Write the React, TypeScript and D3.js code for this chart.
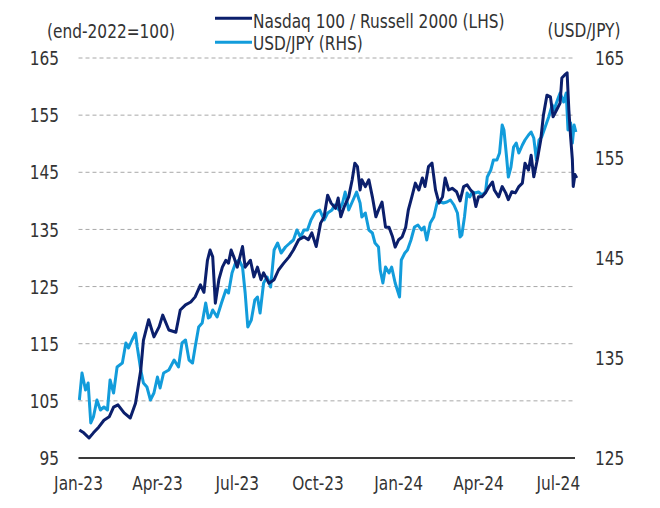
import * as d3 from "d3";
import type { ReactNode } from "react";

// Nasdaq 100 / Russell 2000, end-2022 = 100 (left axis)
const ndxDates = [
  "2023-01-02", "2023-01-07", "2023-01-13", "2023-01-18", "2023-01-24", "2023-01-30",
  "2023-02-05", "2023-02-10", "2023-02-15", "2023-02-22", "2023-03-01", "2023-03-07",
  "2023-03-13", "2023-03-16", "2023-03-22", "2023-03-28", "2023-04-03", "2023-04-07",
  "2023-04-14", "2023-04-22", "2023-04-27", "2023-05-03", "2023-05-09", "2023-05-14",
  "2023-05-20", "2023-05-24", "2023-05-28", "2023-05-31", "2023-06-03", "2023-06-06",
  "2023-06-10", "2023-06-14", "2023-06-18", "2023-06-21", "2023-06-24", "2023-06-27",
  "2023-07-01", "2023-07-07", "2023-07-10", "2023-07-16", "2023-07-20", "2023-07-24",
  "2023-07-28", "2023-07-31", "2023-08-06", "2023-08-12", "2023-08-17", "2023-08-23",
  "2023-08-29", "2023-09-03", "2023-09-09", "2023-09-15", "2023-09-20", "2023-09-24",
  "2023-09-29", "2023-10-04", "2023-10-08", "2023-10-12", "2023-10-16", "2023-10-21",
  "2023-10-24", "2023-10-27", "2023-10-31", "2023-11-05", "2023-11-09", "2023-11-12",
  "2023-11-15", "2023-11-18", "2023-11-20", "2023-11-24", "2023-11-28", "2023-12-02",
  "2023-12-06", "2023-12-09", "2023-12-13", "2023-12-17", "2023-12-21", "2023-12-25",
  "2023-12-28", "2024-01-01", "2024-01-05", "2024-01-09", "2024-01-12", "2024-01-16",
  "2024-01-20", "2024-01-24", "2024-01-28", "2024-01-31", "2024-02-04", "2024-02-08",
  "2024-02-12", "2024-02-16", "2024-02-20", "2024-02-23", "2024-02-27", "2024-03-02",
  "2024-03-07", "2024-03-11", "2024-03-15", "2024-03-19", "2024-03-23", "2024-03-26",
  "2024-03-29", "2024-04-01", "2024-04-05", "2024-04-09", "2024-04-13", "2024-04-17",
  "2024-04-19", "2024-04-24", "2024-04-28", "2024-05-02", "2024-05-05", "2024-05-09",
  "2024-05-13", "2024-05-17", "2024-05-21", "2024-05-24", "2024-05-28", "2024-05-31",
  "2024-06-03", "2024-06-07", "2024-06-11", "2024-06-14", "2024-06-18", "2024-06-22",
  "2024-06-25", "2024-06-29", "2024-07-03", "2024-07-05", "2024-07-08", "2024-07-11",
  "2024-07-13", "2024-07-15", "2024-07-17", "2024-07-18", "2024-07-20", "2024-07-22",
];
const ndxValues = [
  99.9, 99.4, 98.5, 99.4, 100.4, 101.6,
  102.2, 103.9, 104.3, 102.9, 102, 104.6,
  110.4, 115.6, 119.2, 116.2, 118, 120,
  117.4, 117, 120.9, 121.8, 122.3, 123.2,
  125.3, 124, 129.6, 131.4, 130.2, 122.1,
  126.2, 128.4, 129.6, 129.1, 131.4, 130.2,
  128.4, 132, 128.4, 129.6, 126.7, 128.4,
  126.2, 127.4, 125.6, 126.2, 127.9, 129.1,
  130.2, 131.4, 133.2, 133.7, 133.2, 134.4,
  132, 136.1, 137.2, 141, 139.6, 138.7,
  140.5, 137.2, 139, 140.7, 143.7, 146.6,
  146, 141.9, 143.7, 142.5, 143.7, 140.7,
  137.2, 138.4, 139.8, 135.4, 135.4, 133.7,
  131.9, 133.2, 133.7, 135.4, 138.4, 140.7,
  143.1, 141.9, 144, 142.5, 146, 146.6,
  141.9, 139.6, 140.7, 144, 141.9, 142.2,
  141.6, 140, 142.5, 142.8, 141.9, 141.4,
  139, 140.7, 140.7, 141.4, 142.5, 143.3,
  141.9, 140.7, 142.5, 141.4, 140.2, 141.6,
  141.4, 142.5, 143.1, 146.6, 145.4, 148,
  144.2, 147.2, 150.7, 155, 158.5, 158.2,
  154.7, 155.9, 157.1, 161.5, 162, 162.4,
  155.9, 151.2, 147.2, 142.5, 144.6, 144,
];

// USD/JPY (right axis)
const jpyDates = [
  "2023-01-02", "2023-01-05", "2023-01-09", "2023-01-12", "2023-01-15", "2023-01-18",
  "2023-01-22", "2023-01-26", "2023-01-30", "2023-02-03", "2023-02-06", "2023-02-10",
  "2023-02-14", "2023-02-20", "2023-02-24", "2023-02-27", "2023-03-03", "2023-03-07",
  "2023-03-09", "2023-03-13", "2023-03-16", "2023-03-20", "2023-03-24", "2023-03-28",
  "2023-04-01", "2023-04-04", "2023-04-08", "2023-04-14", "2023-04-20", "2023-04-25",
  "2023-04-29", "2023-05-03", "2023-05-07", "2023-05-11", "2023-05-14", "2023-05-18",
  "2023-05-22", "2023-05-26", "2023-05-29", "2023-05-31", "2023-06-03", "2023-06-08",
  "2023-06-13", "2023-06-18", "2023-06-21", "2023-06-25", "2023-06-29", "2023-07-03",
  "2023-07-07", "2023-07-10", "2023-07-13", "2023-07-17", "2023-07-21", "2023-07-24",
  "2023-07-27", "2023-07-31", "2023-08-04", "2023-08-08", "2023-08-12", "2023-08-16",
  "2023-08-20", "2023-08-25", "2023-08-30", "2023-09-03", "2023-09-07", "2023-09-11",
  "2023-09-15", "2023-09-19", "2023-09-23", "2023-09-28", "2023-10-03", "2023-10-08",
  "2023-10-12", "2023-10-17", "2023-10-20", "2023-10-25", "2023-10-29", "2023-11-01",
  "2023-11-05", "2023-11-09", "2023-11-14", "2023-11-18", "2023-11-20", "2023-11-24",
  "2023-11-28", "2023-12-02", "2023-12-05", "2023-12-09", "2023-12-11", "2023-12-14",
  "2023-12-17", "2023-12-21", "2023-12-24", "2023-12-28", "2024-01-02", "2024-01-04",
  "2024-01-08", "2024-01-11", "2024-01-15", "2024-01-19", "2024-01-23", "2024-01-27",
  "2024-01-30", "2024-02-02", "2024-02-06", "2024-02-10", "2024-02-14", "2024-02-18",
  "2024-02-21", "2024-02-25", "2024-02-29", "2024-03-04", "2024-03-08", "2024-03-11",
  "2024-03-13", "2024-03-16", "2024-03-19", "2024-03-22", "2024-03-25", "2024-03-28",
  "2024-04-01", "2024-04-05", "2024-04-09", "2024-04-11", "2024-04-15", "2024-04-18",
  "2024-04-22", "2024-04-25", "2024-04-28", "2024-04-30", "2024-05-03", "2024-05-05",
  "2024-05-08", "2024-05-11", "2024-05-14", "2024-05-17", "2024-05-21", "2024-05-24",
  "2024-05-28", "2024-05-31", "2024-06-03", "2024-06-06", "2024-06-09", "2024-06-12",
  "2024-06-16", "2024-06-20", "2024-06-24", "2024-06-26", "2024-06-30", "2024-07-03",
  "2024-07-07", "2024-07-10", "2024-07-12", "2024-07-15", "2024-07-17", "2024-07-19",
  "2024-07-21",
];
const jpyValues = [
  130.8, 133.5, 131.8, 132.5, 128.5, 129.1,
  130.8, 129.8, 130.1, 129.8, 132.8, 131.5,
  134.1, 134.5, 136.5, 136, 136.8, 137.5,
  136.1, 133.8, 132.5, 132.1, 130.8, 131.5,
  133.1, 132, 133.5, 133.8, 134.8, 134.1,
  136.5, 136.8, 134.8, 134.5, 136.1, 138.1,
  138.5, 140.5, 139, 139.1, 139.8, 139.1,
  140.5, 141.8, 141.5, 143.5, 144.5, 144.8,
  144.1, 141.5, 138.1, 138.8, 140.8, 141.1,
  139.5, 142.5, 143.1, 142.1, 145.8, 146.5,
  145.5, 146.1, 146.5, 146.8, 147.8, 147.1,
  147.8, 147.8, 148.8, 149.6, 149.8, 148.8,
  149.5, 149.8, 150.3, 149.8, 150.5, 151.6,
  149.8, 150.6, 151.6, 150.5, 149.1, 149.5,
  147.8, 147.5, 146.5, 146.1, 143.8, 142.5,
  144.1, 143.5, 144.1, 142.5, 141.1, 144.8,
  145.5, 145.8, 146.8, 148.1, 148.3, 147.8,
  148.1, 146.8, 148.5, 149.1, 150.6, 150.6,
  150.5, 150.6, 150.8, 150.3, 149.5, 147.1,
  147.3, 149.1, 151.5, 151.1, 151.6, 151.5,
  151.6, 151.3, 151.6, 153.1, 153.8, 154.8,
  154.8, 155.5, 158.3, 157.8, 155.1, 153.1,
  154.1, 156.1, 156.5, 155.5, 156.3, 156.8,
  157.3, 157.6, 157, 154.8, 156.8, 157.1,
  158.1, 159.1, 160.3, 159.8, 160.8, 161.5,
  160.6, 161.5, 157.8, 158.5, 156.5, 158.3,
  157.6,
];

const leftTicks = [95, 105, 115, 125, 135, 145, 155, 165];
const rightTicks = [125, 135, 145, 155, 165];
const monthTicks = ["2023-01-01", "2023-04-01", "2023-07-01", "2023-10-01", "2024-01-01", "2024-04-01", "2024-07-01"];

const ndxLabel = "Nasdaq 100 / Russell 2000 (LHS)";
const jpyLabel = "USD/JPY (RHS)";

const W = 660;
const H = 508;
const FONT = "'DejaVu Sans Condensed', 'DejaVu Sans', sans-serif";
const SX = 0.855; // squeeze the glyphs to get a narrow face
const NAVY = "#0b1f6c";
const SKY = "#129cdb";
const TEXT = "#333333";

// narrow text: DejaVu Condensed squeezed horizontally
function T({
  x,
  y,
  anchor = "start",
  dy,
  children,
}: {
  x: number;
  y: number;
  anchor?: "start" | "middle" | "end";
  dy?: string;
  children: ReactNode;
}) {
  return (
    <text
      transform={`translate(${x},${y}) scale(${SX},1)`}
      dy={dy}
      textAnchor={anchor}
      fontSize={20}
      fill={TEXT}
    >
      {children}
    </text>
  );
}

export default function App() {
  const parse = d3.timeParse("%Y-%m-%d");
  const fmt = d3.timeFormat("%b-%y");

  const ndx = ndxDates.map((d, i) => ({ date: parse(d) as Date, v: ndxValues[i] }));
  const jpy = jpyDates.map((d, i) => ({ date: parse(d) as Date, v: jpyValues[i] }));

  const x = d3
    .scaleTime()
    .domain([parse("2023-01-01") as Date, parse("2024-07-20") as Date])
    .range([78.5, 575]);
  const yL = d3.scaleLinear().domain([95, 165]).range([458, 58]);
  const yR = d3.scaleLinear().domain([125, 165]).range([458, 58]);

  const ndxLine = d3
    .line<{ date: Date; v: number }>()
    .x((d) => x(d.date))
    .y((d) => yL(d.v));
  const jpyLine = d3
    .line<{ date: Date; v: number }>()
    .x((d) => x(d.date))
    .y((d) => yR(d.v));

  const [x0, x1] = x.range();

  return (
    <div style={{ position: "absolute", left: 0, top: 0 }}>
      <svg width={W} height={H} style={{ display: "block", background: "#fff" }} fontFamily={FONT}>
        {/* gridlines */}
        {leftTicks.slice(1).map((t) => (
          <line
            key={t}
            x1={x0}
            x2={x1}
            y1={yL(t)}
            y2={yL(t)}
            stroke="#a8a8a8"
            strokeWidth={1}
            strokeDasharray="4,3"
          />
        ))}
        <line x1={x0} x2={x1} y1={yL(95)} y2={yL(95)} stroke="#3a3a3a" strokeWidth={2} />

        {/* left ticks */}
        {leftTicks.map((t) => (
          <T key={t} x={59} y={yL(t)} dy="0.36em" anchor="end">
            {t}
          </T>
        ))}
        {/* right ticks */}
        {rightTicks.map((t) => (
          <T key={t} x={595} y={yR(t)} dy="0.36em">
            {t}
          </T>
        ))}
        {/* x ticks */}
        {monthTicks.map((m) => {
          const d = parse(m) as Date;
          return (
            <T key={m} x={x(d)} y={490} anchor="middle">
              {fmt(d)}
            </T>
          );
        })}

        {/* axis titles */}
        <T x={111} y={38} anchor="middle">
          (end-2022=100)
        </T>
        <T x={584} y={37} anchor="middle">
          (USD/JPY)
        </T>

        {/* legend */}
        <line x1={215} x2={252} y1={18.3} y2={18.3} stroke={NAVY} strokeWidth={3} />
        <T x={253} y={27.5}>
          {ndxLabel}
        </T>
        <line x1={215} x2={252} y1={42.3} y2={42.3} stroke={SKY} strokeWidth={3} />
        <T x={253} y={50}>
          {jpyLabel}
        </T>

        {/* series */}
        <path d={jpyLine(jpy) ?? ""} fill="none" stroke={SKY} strokeWidth={3} strokeLinejoin="round" />
        <path d={ndxLine(ndx) ?? ""} fill="none" stroke={NAVY} strokeWidth={3} strokeLinejoin="round" />
      </svg>
    </div>
  );
}
